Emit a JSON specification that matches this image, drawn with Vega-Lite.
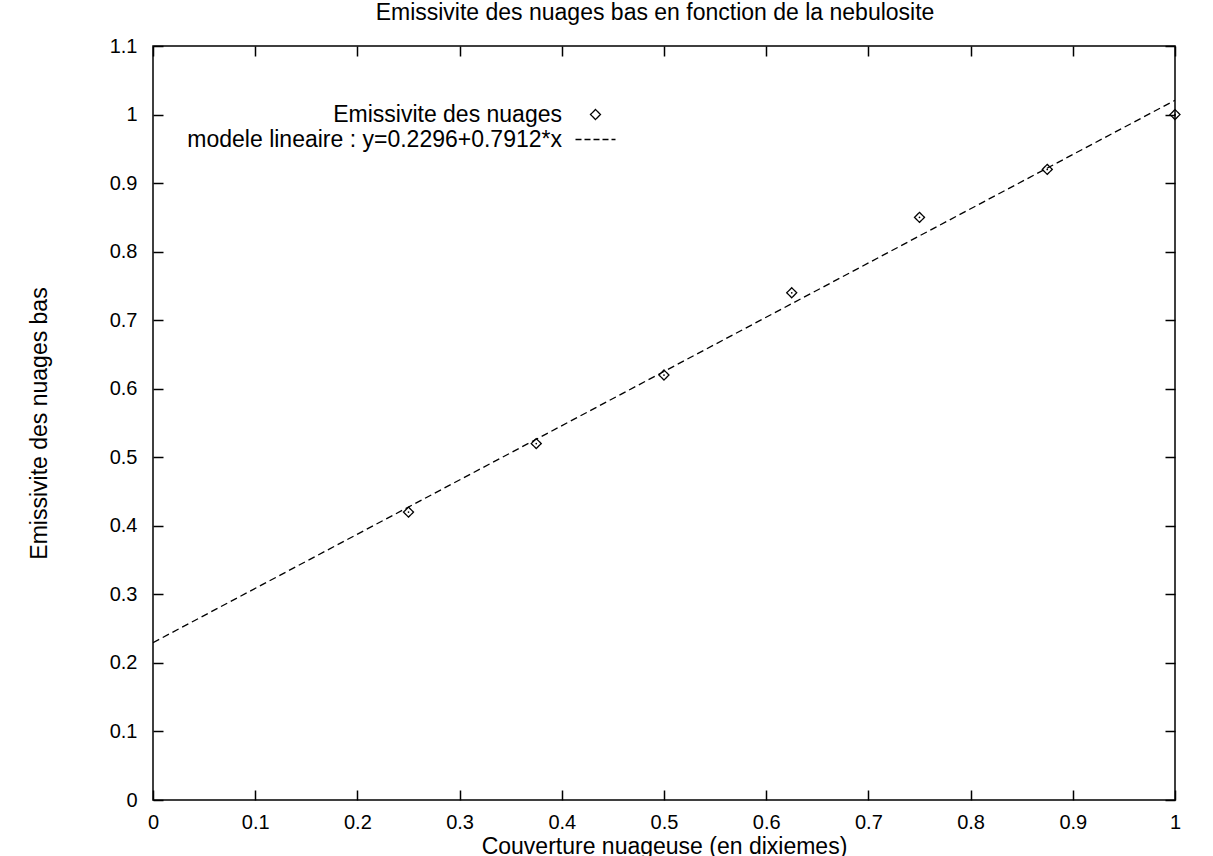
{
  "$schema": "https://vega.github.io/schema/vega-lite/v6.json",
  "width": 1022,
  "height": 754,
  "autosize": "none",
  "padding": {"left": 153, "top": 46, "right": 38, "bottom": 56},
  "background": "white",
  "title": {
    "text": "Emissivite des nuages bas en fonction de la nebulosite",
    "font": "Liberation Sans",
    "fontSize": 23,
    "fontWeight": "normal",
    "color": "black",
    "anchor": "middle",
    "offset": 11,
    "dx": -9
  },
  "config": {
    "view": {"stroke": "black", "strokeWidth": 1.5},
    "font": "Liberation Sans",
    "axis": {
      "grid": false,
      "domain": false,
      "labelFont": "Liberation Sans",
      "labelFontSize": 20,
      "labelColor": "black",
      "titleFont": "Liberation Sans",
      "titleFontSize": 23,
      "titleFontWeight": "normal",
      "titleColor": "black",
      "tickColor": "black",
      "tickWidth": 1.5,
      "tickSize": -10
    },
    "legend": {
      "labelFont": "Liberation Sans",
      "labelFontSize": 23,
      "labelColor": "black"
    }
  },
  "datasets": {
    "obs": [
      {"x": 0.25, "y": 0.42, "series": "Emissivite des nuages"},
      {"x": 0.375, "y": 0.52, "series": "Emissivite des nuages"},
      {"x": 0.5, "y": 0.62, "series": "Emissivite des nuages"},
      {"x": 0.625, "y": 0.74, "series": "Emissivite des nuages"},
      {"x": 0.75, "y": 0.85, "series": "Emissivite des nuages"},
      {"x": 0.875, "y": 0.92, "series": "Emissivite des nuages"},
      {"x": 1.0, "y": 1.0, "series": "Emissivite des nuages"}
    ],
    "fit": [
      {"x": 0, "y": 0.2296},
      {"x": 1, "y": 1.0208}
    ]
  },
  "layer": [
    {
      "data": {"name": "fit"},
      "mark": {"type": "line", "color": "black", "strokeWidth": 1.3, "strokeDash": [7, 4], "clip": true},
      "encoding": {
        "x": {
          "field": "x", "type": "quantitative",
          "scale": {"domain": [0, 1], "nice": false, "zero": false},
          "axis": {
            "orient": "bottom",
            "values": [0, 0.1, 0.2, 0.3, 0.4, 0.5, 0.6, 0.7, 0.8, 0.9, 1],
            "format": "~g",
            "labelPadding": 22,
            "labelFlush": false,
            "title": "Couverture nuageuse (en dixiemes)",
            "titlePadding": 3
          }
        },
        "y": {
          "field": "y", "type": "quantitative",
          "scale": {"domain": [0, 1.1], "nice": false, "zero": false},
          "axis": {
            "orient": "left",
            "values": [0, 0.1, 0.2, 0.3, 0.4, 0.5, 0.6, 0.7, 0.8, 0.9, 1, 1.1],
            "format": "~g",
            "labelPadding": 26,
            "labelFlush": false,
            "title": "Emissivite des nuages bas",
            "titlePadding": 58
          }
        }
      }
    },
    {
      "data": {"name": "obs"},
      "mark": {"type": "point", "filled": false, "color": "black", "strokeWidth": 1.3, "size": 100, "opacity": 1},
      "encoding": {
        "x": {
          "field": "x", "type": "quantitative",
          "axis": {
            "orient": "top",
            "values": [0, 0.1, 0.2, 0.3, 0.4, 0.5, 0.6, 0.7, 0.8, 0.9, 1],
            "labels": false,
            "title": null
          }
        },
        "y": {
          "field": "y", "type": "quantitative",
          "axis": {
            "orient": "right",
            "values": [0, 0.1, 0.2, 0.3, 0.4, 0.5, 0.6, 0.7, 0.8, 0.9, 1, 1.1],
            "labels": false,
            "title": null
          }
        },
        "shape": {
          "field": "series", "type": "nominal",
          "scale": {
            "domain": ["Emissivite des nuages", "modele lineaire : y=0.2296+0.7912*x"],
            "range": ["diamond", "M-4,0L4,0"]
          },
          "legend": {
            "title": null,
            "orient": "none",
            "legendX": 431,
            "legendY": 57,
            "labelAlign": "right",
            "labelOffset": -45,
            "labelLimit": 700,
            "rowPadding": 1,
            "symbolStrokeColor": "black",
            "symbolStrokeWidth": 1.3
          }
        },
        "strokeDash": {
          "field": "series", "type": "nominal",
          "scale": {
            "domain": ["Emissivite des nuages", "modele lineaire : y=0.2296+0.7912*x"],
            "range": [[1, 0], [6, 3]]
          },
          "legend": {
            "title": null,
            "orient": "none",
            "legendX": 431,
            "legendY": 57,
            "labelAlign": "right",
            "labelOffset": -45,
            "labelLimit": 700,
            "rowPadding": 1,
            "symbolStrokeColor": "black",
            "symbolStrokeWidth": 1.3
          }
        }
      }
    },
    {
      "data": {"name": "obs"},
      "mark": {"type": "point", "shape": "circle", "filled": true, "color": "black", "size": 3, "opacity": 1},
      "encoding": {
        "x": {"field": "x", "type": "quantitative", "axis": null},
        "y": {"field": "y", "type": "quantitative", "axis": null}
      }
    }
  ],
  "resolve": {"axis": {"x": "independent", "y": "independent"}}
}
